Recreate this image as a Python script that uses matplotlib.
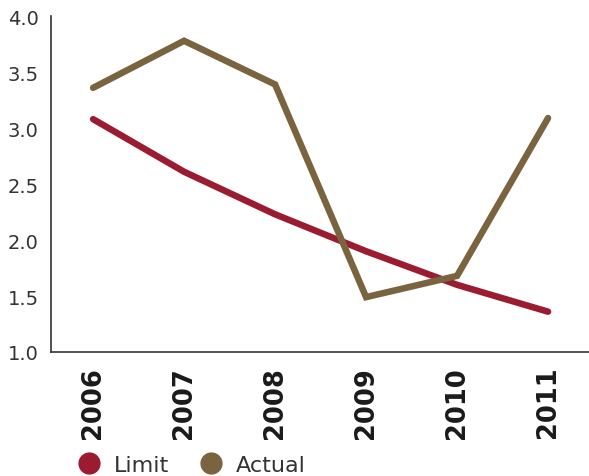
import matplotlib
matplotlib.use("Agg")
import matplotlib.pyplot as plt
from matplotlib.lines import Line2D

years = ["2006", "2007", "2008", "2009", "2010", "2011"]
limit = [3.08, 2.61, 2.23, 1.90, 1.60, 1.36]
actual = [3.36, 3.78, 3.39, 1.49, 1.68, 3.09]

red = "#9b1b30"
olive = "#7a6440"

fig = plt.figure(figsize=(5.89, 4.77), dpi=100)
ax = fig.add_axes([0.087, 0.26, 0.913, 0.704])

x = range(len(years))
ax.plot(x, limit, color=red, lw=4.7, solid_capstyle="round", solid_joinstyle="miter")
ax.plot(x, actual, color=olive, lw=4.7, solid_capstyle="round", solid_joinstyle="miter")

ax.set_xlim(-0.46, 5.45)
ax.set_ylim(1.0, 4.0)
ax.set_yticks([1.0, 1.5, 2.0, 2.5, 3.0, 3.5, 4.0])
ax.set_yticklabels(["%.1f" % v for v in ax.get_yticks()], fontsize=14, color="#333333")
ax.set_xticks(list(x))
ax.set_xticklabels(years, rotation=90, fontsize=18.5, fontweight="bold", color="#1a1a1a")
ax.tick_params(length=0)
ax.tick_params(axis="x", pad=10)
ax.tick_params(axis="y", pad=9)

for s in ["top", "right"]:
    ax.spines[s].set_visible(False)
for s in ["left", "bottom"]:
    ax.spines[s].set_color("#333333")
    ax.spines[s].set_linewidth(1.2)

handles = [
    Line2D([], [], marker="o", ls="", color=red, markersize=15),
    Line2D([], [], marker="o", ls="", color=olive, markersize=15),
]
fig.legend(handles, ["Limit", "Actual"], loc="center left", bbox_to_anchor=(0.08, 0.023),
           ncol=2, frameon=False, fontsize=16, handletextpad=0.1, columnspacing=0.9,
           labelcolor="#333333")

fig.savefig("out.png", dpi=100)
